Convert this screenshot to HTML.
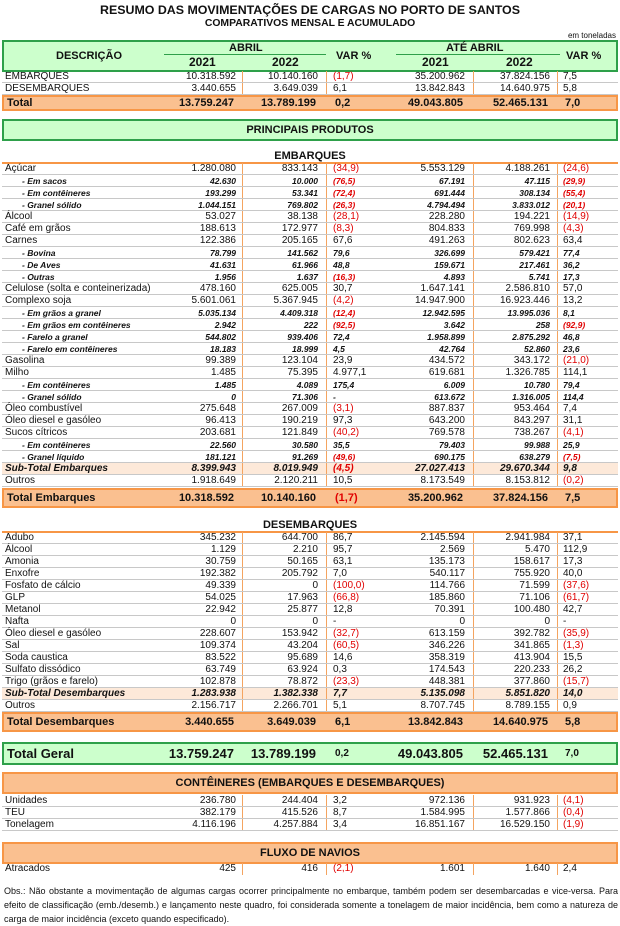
<!DOCTYPE html>
<html><head><meta charset="utf-8"><style>
*{margin:0;padding:0;box-sizing:border-box}
body{width:620px;height:922px;background:#fff;font-family:"Liberation Sans",sans-serif;color:#111;position:relative;overflow:hidden}
.t{position:absolute;left:0;width:620px;text-align:center;font-weight:bold}
.r{position:absolute;left:2px;width:616px;height:12px;font-size:10px;line-height:12px;border-bottom:1px solid #c8c8c8;
background:linear-gradient(to right,transparent 240px,#f4a460 240px,#f4a460 241px,transparent 241px,transparent 324px,#f4a460 324px,#f4a460 325px,transparent 325px,transparent 471px,#f4a460 471px,#f4a460 472px,transparent 472px,transparent 555px,#f4a460 555px,#f4a460 556px,transparent 556px)}
.r span{position:absolute;top:0;white-space:nowrap}
.d{left:3px}.a{right:382px}.b{right:300px}.v{left:331px}.c{right:153px}.e{right:68px}.w{left:561px}
.s{font-style:italic;font-weight:bold;font-size:8.5px}
.s .d{left:20px}
.st{font-style:italic;font-weight:bold;background-color:#fde9d9}
.red{color:#e00000}
.box{position:absolute;left:2px;width:616px}
.g{background:#ccffcc;border:2px solid #2ea04a}
.o{background:#fac090;border:2px solid #f79646}
.o.r,.g.r{height:20px;line-height:16px;font-weight:bold;font-size:11px;border-bottom:2px solid #f79646}
.g.r{border-bottom:2px solid #2ea04a;font-size:12px}
.sec{position:absolute;left:2px;width:616px;text-align:center;font-weight:bold;font-size:11px;border-bottom:2px solid #f79646;height:14px;line-height:12px}
</style></head><body>
<div class="t" style="top:3px;font-size:12.4px">RESUMO DAS MOVIMENTAÇÕES DE CARGAS NO PORTO DE SANTOS</div>
<div class="t" style="top:18px;font-size:10.4px">COMPARATIVOS MENSAL E ACUMULADO</div>
<div style="position:absolute;right:4px;top:31px;font-size:8px">em toneladas</div>
<div class="box g" style="top:40px;height:32px;font-weight:bold;font-size:11px">
<span style="position:absolute;left:52px;top:8px">DESCRIÇÃO</span>
<span style="position:absolute;left:225px;top:0px">ABRIL</span>
<div style="position:absolute;left:160px;width:162px;top:12px;border-top:1px solid #2ea04a"></div>
<span style="position:absolute;left:185px;top:13px;font-size:12px">2021</span>
<span style="position:absolute;left:268px;top:13px;font-size:12px">2022</span>
<span style="position:absolute;left:332px;top:8px">VAR %</span>
<span style="position:absolute;left:442px;top:0px">ATÉ ABRIL</span>
<div style="position:absolute;left:392px;width:164px;top:12px;border-top:1px solid #2ea04a"></div>
<span style="position:absolute;left:418px;top:13px;font-size:12px">2021</span>
<span style="position:absolute;left:502px;top:13px;font-size:12px">2022</span>
<span style="position:absolute;left:562px;top:8px">VAR %</span>
</div>
<div class="r" style="top:71px"><span class="d">EMBARQUES</span><span class="a">10.318.592</span><span class="b">10.140.160</span><span class="v red">(1,7)</span><span class="c">35.200.962</span><span class="e">37.824.156</span><span class="w">7,5</span></div>
<div class="r" style="top:83px"><span class="d">DESEMBARQUES</span><span class="a">3.440.655</span><span class="b">3.649.039</span><span class="v">6,1</span><span class="c">13.842.843</span><span class="e">14.640.975</span><span class="w">5,8</span></div>
<div class="r o" style="top:95px;height:16px;line-height:12px"><span class="d">Total</span><span class="a">13.759.247</span><span class="b">13.789.199</span><span class="v">0,2</span><span class="c">49.043.805</span><span class="e">52.465.131</span><span class="w">7,0</span></div>
<div class="box g" style="top:119px;height:22px;text-align:center;font-weight:bold;font-size:11px;line-height:18px">PRINCIPAIS PRODUTOS</div>

<div class="sec" style="top:150px">EMBARQUES</div>
<div class="r" style="top:163px"><span class="d">Açúcar</span><span class="a">1.280.080</span><span class="b">833.143</span><span class="v red">(34,9)</span><span class="c">5.553.129</span><span class="e">4.188.261</span><span class="w red">(24,6)</span></div>
<div class="r s" style="top:175px"><span class="d">- Em sacos</span><span class="a">42.630</span><span class="b">10.000</span><span class="v red">(76,5)</span><span class="c">67.191</span><span class="e">47.115</span><span class="w red">(29,9)</span></div>
<div class="r s" style="top:187px"><span class="d">- Em contêineres</span><span class="a">193.299</span><span class="b">53.341</span><span class="v red">(72,4)</span><span class="c">691.444</span><span class="e">308.134</span><span class="w red">(55,4)</span></div>
<div class="r s" style="top:199px"><span class="d">- Granel sólido</span><span class="a">1.044.151</span><span class="b">769.802</span><span class="v red">(26,3)</span><span class="c">4.794.494</span><span class="e">3.833.012</span><span class="w red">(20,1)</span></div>
<div class="r" style="top:211px"><span class="d">Álcool</span><span class="a">53.027</span><span class="b">38.138</span><span class="v red">(28,1)</span><span class="c">228.280</span><span class="e">194.221</span><span class="w red">(14,9)</span></div>
<div class="r" style="top:223px"><span class="d">Café em grãos</span><span class="a">188.613</span><span class="b">172.977</span><span class="v red">(8,3)</span><span class="c">804.833</span><span class="e">769.998</span><span class="w red">(4,3)</span></div>
<div class="r" style="top:235px"><span class="d">Carnes</span><span class="a">122.386</span><span class="b">205.165</span><span class="v">67,6</span><span class="c">491.263</span><span class="e">802.623</span><span class="w">63,4</span></div>
<div class="r s" style="top:247px"><span class="d">- Bovina</span><span class="a">78.799</span><span class="b">141.562</span><span class="v">79,6</span><span class="c">326.699</span><span class="e">579.421</span><span class="w">77,4</span></div>
<div class="r s" style="top:259px"><span class="d">- De Aves</span><span class="a">41.631</span><span class="b">61.966</span><span class="v">48,8</span><span class="c">159.671</span><span class="e">217.461</span><span class="w">36,2</span></div>
<div class="r s" style="top:271px"><span class="d">- Outras</span><span class="a">1.956</span><span class="b">1.637</span><span class="v red">(16,3)</span><span class="c">4.893</span><span class="e">5.741</span><span class="w">17,3</span></div>
<div class="r" style="top:283px"><span class="d">Celulose (solta e conteinerizada)</span><span class="a">478.160</span><span class="b">625.005</span><span class="v">30,7</span><span class="c">1.647.141</span><span class="e">2.586.810</span><span class="w">57,0</span></div>
<div class="r" style="top:295px"><span class="d">Complexo soja</span><span class="a">5.601.061</span><span class="b">5.367.945</span><span class="v red">(4,2)</span><span class="c">14.947.900</span><span class="e">16.923.446</span><span class="w">13,2</span></div>
<div class="r s" style="top:307px"><span class="d">- Em grãos a granel</span><span class="a">5.035.134</span><span class="b">4.409.318</span><span class="v red">(12,4)</span><span class="c">12.942.595</span><span class="e">13.995.036</span><span class="w">8,1</span></div>
<div class="r s" style="top:319px"><span class="d">- Em grãos em contêineres</span><span class="a">2.942</span><span class="b">222</span><span class="v red">(92,5)</span><span class="c">3.642</span><span class="e">258</span><span class="w red">(92,9)</span></div>
<div class="r s" style="top:331px"><span class="d">- Farelo a granel</span><span class="a">544.802</span><span class="b">939.406</span><span class="v">72,4</span><span class="c">1.958.899</span><span class="e">2.875.292</span><span class="w">46,8</span></div>
<div class="r s" style="top:343px"><span class="d">- Farelo em contêineres</span><span class="a">18.183</span><span class="b">18.999</span><span class="v">4,5</span><span class="c">42.764</span><span class="e">52.860</span><span class="w">23,6</span></div>
<div class="r" style="top:355px"><span class="d">Gasolina</span><span class="a">99.389</span><span class="b">123.104</span><span class="v">23,9</span><span class="c">434.572</span><span class="e">343.172</span><span class="w red">(21,0)</span></div>
<div class="r" style="top:367px"><span class="d">Milho</span><span class="a">1.485</span><span class="b">75.395</span><span class="v">4.977,1</span><span class="c">619.681</span><span class="e">1.326.785</span><span class="w">114,1</span></div>
<div class="r s" style="top:379px"><span class="d">- Em contêineres</span><span class="a">1.485</span><span class="b">4.089</span><span class="v">175,4</span><span class="c">6.009</span><span class="e">10.780</span><span class="w">79,4</span></div>
<div class="r s" style="top:391px"><span class="d">- Granel sólido</span><span class="a">0</span><span class="b">71.306</span><span class="v">-</span><span class="c">613.672</span><span class="e">1.316.005</span><span class="w">114,4</span></div>
<div class="r" style="top:403px"><span class="d">Óleo combustível</span><span class="a">275.648</span><span class="b">267.009</span><span class="v red">(3,1)</span><span class="c">887.837</span><span class="e">953.464</span><span class="w">7,4</span></div>
<div class="r" style="top:415px"><span class="d">Óleo diesel e gasóleo</span><span class="a">96.413</span><span class="b">190.219</span><span class="v">97,3</span><span class="c">643.200</span><span class="e">843.297</span><span class="w">31,1</span></div>
<div class="r" style="top:427px"><span class="d">Sucos cítricos</span><span class="a">203.681</span><span class="b">121.849</span><span class="v red">(40,2)</span><span class="c">769.578</span><span class="e">738.267</span><span class="w red">(4,1)</span></div>
<div class="r s" style="top:439px"><span class="d">- Em contêineres</span><span class="a">22.560</span><span class="b">30.580</span><span class="v">35,5</span><span class="c">79.403</span><span class="e">99.988</span><span class="w">25,9</span></div>
<div class="r s" style="top:451px"><span class="d">- Granel líquido</span><span class="a">181.121</span><span class="b">91.269</span><span class="v red">(49,6)</span><span class="c">690.175</span><span class="e">638.279</span><span class="w red">(7,5)</span></div>
<div class="r st" style="top:463px"><span class="d">Sub-Total Embarques</span><span class="a">8.399.943</span><span class="b">8.019.949</span><span class="v red">(4,5)</span><span class="c">27.027.413</span><span class="e">29.670.344</span><span class="w">9,8</span></div>
<div class="r" style="top:475px"><span class="d">Outros</span><span class="a">1.918.649</span><span class="b">2.120.211</span><span class="v">10,5</span><span class="c">8.173.549</span><span class="e">8.153.812</span><span class="w red">(0,2)</span></div>
<div class="r o" style="top:488px"><span class="d">Total Embarques</span><span class="a">10.318.592</span><span class="b">10.140.160</span><span class="v red">(1,7)</span><span class="c">35.200.962</span><span class="e">37.824.156</span><span class="w">7,5</span></div>

<div class="sec" style="top:519px">DESEMBARQUES</div>
<div class="r" style="top:532px"><span class="d">Adubo</span><span class="a">345.232</span><span class="b">644.700</span><span class="v">86,7</span><span class="c">2.145.594</span><span class="e">2.941.984</span><span class="w">37,1</span></div>
<div class="r" style="top:544px"><span class="d">Álcool</span><span class="a">1.129</span><span class="b">2.210</span><span class="v">95,7</span><span class="c">2.569</span><span class="e">5.470</span><span class="w">112,9</span></div>
<div class="r" style="top:556px"><span class="d">Amonia</span><span class="a">30.759</span><span class="b">50.165</span><span class="v">63,1</span><span class="c">135.173</span><span class="e">158.617</span><span class="w">17,3</span></div>
<div class="r" style="top:568px"><span class="d">Enxofre</span><span class="a">192.382</span><span class="b">205.792</span><span class="v">7,0</span><span class="c">540.117</span><span class="e">755.920</span><span class="w">40,0</span></div>
<div class="r" style="top:580px"><span class="d">Fosfato de cálcio</span><span class="a">49.339</span><span class="b">0</span><span class="v red">(100,0)</span><span class="c">114.766</span><span class="e">71.599</span><span class="w red">(37,6)</span></div>
<div class="r" style="top:592px"><span class="d">GLP</span><span class="a">54.025</span><span class="b">17.963</span><span class="v red">(66,8)</span><span class="c">185.860</span><span class="e">71.106</span><span class="w red">(61,7)</span></div>
<div class="r" style="top:604px"><span class="d">Metanol</span><span class="a">22.942</span><span class="b">25.877</span><span class="v">12,8</span><span class="c">70.391</span><span class="e">100.480</span><span class="w">42,7</span></div>
<div class="r" style="top:616px"><span class="d">Nafta</span><span class="a">0</span><span class="b">0</span><span class="v">-</span><span class="c">0</span><span class="e">0</span><span class="w">-</span></div>
<div class="r" style="top:628px"><span class="d">Óleo diesel e gasóleo</span><span class="a">228.607</span><span class="b">153.942</span><span class="v red">(32,7)</span><span class="c">613.159</span><span class="e">392.782</span><span class="w red">(35,9)</span></div>
<div class="r" style="top:640px"><span class="d">Sal</span><span class="a">109.374</span><span class="b">43.204</span><span class="v red">(60,5)</span><span class="c">346.226</span><span class="e">341.865</span><span class="w red">(1,3)</span></div>
<div class="r" style="top:652px"><span class="d">Soda caustica</span><span class="a">83.522</span><span class="b">95.689</span><span class="v">14,6</span><span class="c">358.319</span><span class="e">413.904</span><span class="w">15,5</span></div>
<div class="r" style="top:664px"><span class="d">Sulfato dissódico</span><span class="a">63.749</span><span class="b">63.924</span><span class="v">0,3</span><span class="c">174.543</span><span class="e">220.233</span><span class="w">26,2</span></div>
<div class="r" style="top:676px"><span class="d">Trigo (grãos e farelo)</span><span class="a">102.878</span><span class="b">78.872</span><span class="v red">(23,3)</span><span class="c">448.381</span><span class="e">377.860</span><span class="w red">(15,7)</span></div>
<div class="r st" style="top:688px"><span class="d">Sub-Total Desembarques</span><span class="a">1.283.938</span><span class="b">1.382.338</span><span class="v">7,7</span><span class="c">5.135.098</span><span class="e">5.851.820</span><span class="w">14,0</span></div>
<div class="r" style="top:700px"><span class="d">Outros</span><span class="a">2.156.717</span><span class="b">2.266.701</span><span class="v">5,1</span><span class="c">8.707.745</span><span class="e">8.789.155</span><span class="w">0,9</span></div>
<div class="r o" style="top:712px"><span class="d">Total Desembarques</span><span class="a">3.440.655</span><span class="b">3.649.039</span><span class="v">6,1</span><span class="c">13.842.843</span><span class="e">14.640.975</span><span class="w">5,8</span></div>

<div class="r g" style="top:742px;height:23px;line-height:19px;font-size:13px"><span class="d">Total Geral</span><span class="a">13.759.247</span><span class="b">13.789.199</span><span class="v" style="font-size:10px">0,2</span><span class="c">49.043.805</span><span class="e">52.465.131</span><span class="w" style="font-size:10px">7,0</span></div>

<div class="box o" style="top:772px;height:22px;text-align:center;font-weight:bold;font-size:11px;line-height:18px">CONTÊINERES (EMBARQUES E DESEMBARQUES)</div>
<div class="r" style="top:795px"><span class="d">Unidades</span><span class="a">236.780</span><span class="b">244.404</span><span class="v">3,2</span><span class="c">972.136</span><span class="e">931.923</span><span class="w red">(4,1)</span></div>
<div class="r" style="top:807px"><span class="d">TEU</span><span class="a">382.179</span><span class="b">415.526</span><span class="v">8,7</span><span class="c">1.584.995</span><span class="e">1.577.866</span><span class="w red">(0,4)</span></div>
<div class="r" style="top:819px"><span class="d">Tonelagem</span><span class="a">4.116.196</span><span class="b">4.257.884</span><span class="v">3,4</span><span class="c">16.851.167</span><span class="e">16.529.150</span><span class="w red">(1,9)</span></div>

<div class="box o" style="top:842px;height:22px;text-align:center;font-weight:bold;font-size:11px;line-height:18px">FLUXO DE NAVIOS</div>
<div class="r" style="top:863px;border-bottom:none"><span class="d">Atracados</span><span class="a">425</span><span class="b">416</span><span class="v red">(2,1)</span><span class="c">1.601</span><span class="e">1.640</span><span class="w">2,4</span></div>

<div style="position:absolute;left:4px;top:884px;width:614px;font-size:9px;line-height:14px;text-align:justify">Obs.: Não obstante a movimentação de algumas cargas ocorrer principalmente no embarque, também podem ser desembarcadas e vice-versa. Para efeito de classificação (emb./desemb.) e lançamento neste quadro, foi considerada somente a tonelagem de maior incidência, bem como a natureza de carga de maior incidência (exceto quando especificado).</div>
</body></html>
